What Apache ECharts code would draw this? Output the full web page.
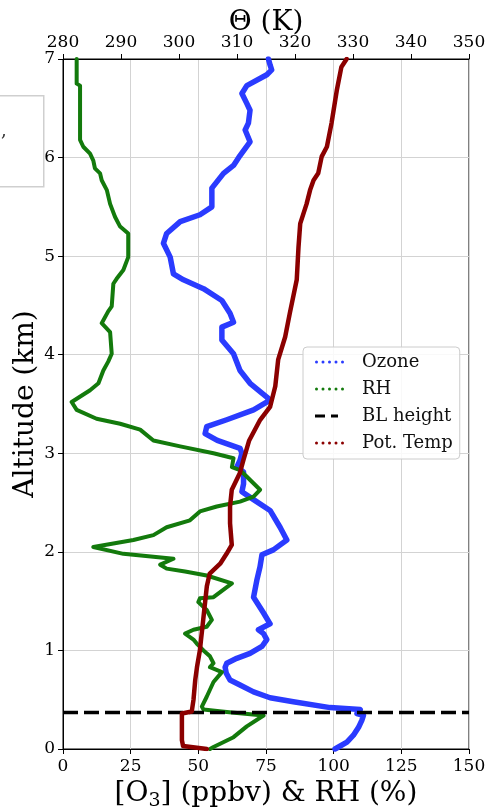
<!DOCTYPE html>
<html>
<head>
<meta charset="utf-8">
<script src="https://cdn.jsdelivr.net/npm/echarts@6/dist/echarts.min.js"></script>
<style>
html,body{margin:0;padding:0;background:#fff;}
#chart{width:490px;height:808px;}
</style>
</head>
<body>
<div id="chart"></div>
<script>
// ---- data (altitude in km) ----
const ozoneAlt = [0.00,0.07,0.14,0.22,0.29,0.34,0.36,0.40,0.42,0.48,0.52,0.58,0.65,0.70,0.77,0.83,0.87,0.92,0.97,1.04,1.11,1.17,1.21,1.27,1.38,1.54,1.71,1.85,1.97,2.02,2.12,2.25,2.42,2.53,2.61,2.69,2.81,2.86,2.93,3.00,3.05,3.13,3.20,3.27,3.34,3.44,3.54,3.57,3.71,3.84,4.01,4.15,4.28,4.33,4.42,4.55,4.67,4.76,4.82,4.99,5.13,5.23,5.35,5.42,5.50,5.57,5.69,5.84,5.92,6.02,6.16,6.28,6.35,6.48,6.55,6.65,6.73,6.84,6.89,6.94,7.00];
const ozoneVal = [100.5,104.9,107.3,109.2,110.4,111.0,108.6,109.8,98.7,85.1,76.5,70.4,65.4,61.7,60.3,59.9,60.5,64.2,69.1,73.5,75.3,74.1,72.2,76.5,74.1,70.4,71.6,72.8,73.5,77.7,82.7,80.2,76.5,70.4,66.1,66.7,66.7,64.2,65.4,66.1,65.4,57.0,52.5,53.1,60.5,70.4,76.5,75.3,69.1,65.4,63.0,58.7,58.7,63.0,61.7,58.7,51.9,44.5,40.8,39.6,37.1,38.3,43.3,50.6,55.0,55.0,55.0,59.3,63.0,65.4,69.1,67.3,68.5,69.1,67.9,66.1,67.9,75.3,77.1,76.5,75.9];

const rhAlt = [0.00,0.02,0.12,0.23,0.34,0.37,0.38,0.40,0.43,0.53,0.68,0.78,0.83,0.87,0.94,1.00,1.07,1.11,1.17,1.21,1.24,1.31,1.41,1.49,1.53,1.54,1.68,1.76,1.80,1.83,1.87,1.93,1.98,2.05,2.12,2.17,2.25,2.32,2.41,2.46,2.51,2.56,2.63,2.83,2.86,2.95,3.00,3.07,3.13,3.24,3.30,3.35,3.44,3.52,3.64,3.71,3.84,3.93,4.01,4.23,4.32,4.44,4.49,4.72,4.77,4.86,4.99,5.23,5.30,5.40,5.53,5.67,5.77,5.84,5.89,5.97,6.04,6.11,6.18,6.73,6.75,7.00];
const rhVal = [54.3,55.6,63.0,67.9,74.1,62.4,58.7,51.9,51.3,53.1,55.6,58.7,54.3,55.6,54.3,51.9,49.4,48.2,45.1,48.2,53.1,55.0,53.1,50.0,50.6,55.6,62.4,53.1,45.1,38.3,35.9,40.8,22.3,11.2,26.0,33.4,38.3,46.9,50.6,56.8,65.4,70.4,72.8,65.4,62.4,63.0,55.6,43.3,33.4,28.5,21.1,12.4,5.05,3.2,10.0,13.1,14.9,16.7,18.0,17.4,14.3,16.7,18.0,18.6,19.8,22.3,24.1,24.1,21.1,19.2,17.4,16.2,14.3,13.7,11.8,11.2,10.0,7.5,6.3,6.3,5.05,5.05];

const thetaAlt = [0.00,0.03,0.09,0.36,0.38,0.50,0.70,0.83,1.00,1.11,1.27,1.38,1.65,1.78,1.88,1.98,2.07,2.29,2.46,2.63,2.80,2.93,3.13,3.34,3.47,3.68,3.95,4.18,4.42,4.76,5.09,5.33,5.53,5.67,5.77,5.84,6.01,6.11,6.35,6.68,6.92,7.00];
const thetaVal = [304.8,300.7,300.5,300.5,302.2,302.5,302.8,303.1,303.6,303.8,304.1,304.3,304.8,305.3,307.1,308.2,309.1,308.8,308.8,309.1,310.5,311.1,312.1,314.0,315.7,316.6,317.1,318.3,319.1,320.3,320.6,320.9,322.0,322.6,323.2,324.0,324.6,325.5,326.3,327.2,328.0,328.9];

const blHeight = 0.37;
const bottomTicks = [0, 150, 25];   // min, max, interval
const topTicks = [280, 350, 10];
const altTicks = [0, 7, 1];
const seriesNames = ['Ozone', 'RH', 'BL height', 'Pot. Temp'];

// ---- chart ----
const FONT = 'DejaVu Serif';
const zip = (a, v) => a.map((y, i) => [v[i], y]);

const dots = 'path://M0,0M42,4' +
  'M0,2a1.5,1.5 0 1,0 3,0a1.5,1.5 0 1,0 -3,0' +
  'M6.5,2a1.5,1.5 0 1,0 3,0a1.5,1.5 0 1,0 -3,0' +
  'M13,2a1.5,1.5 0 1,0 3,0a1.5,1.5 0 1,0 -3,0' +
  'M19.5,2a1.5,1.5 0 1,0 3,0a1.5,1.5 0 1,0 -3,0' +
  'M26,2a1.5,1.5 0 1,0 3,0a1.5,1.5 0 1,0 -3,0';
const dash = 'path://M0,0M42,4M0,0.6h10v2.8h-10zM16,0.6h7v2.8h-7z';

const chart = echarts.init(document.getElementById('chart'), null, {renderer: 'canvas'});
const axisCommon = {
  axisLine: {show: true, lineStyle: {color: '#000', width: 1}},
  axisTick: {show: true, inside: false, length: 5, lineStyle: {color: '#000'}},
  axisLabel: {color: '#000', fontFamily: FONT, fontSize: 17},
  nameTextStyle: {color: '#000', fontFamily: FONT, fontSize: 28},
  nameMoveOverlap: false
};
const option = {
  animation: false,
  backgroundColor: '#fff',
  textStyle: {fontFamily: FONT},
  grid: {left: 63, right: 21, top: 59, bottom: 59, show: true, borderColor: '#000', borderWidth: 1,
         containLabel: false, outerBoundsMode: 'none'},
  xAxis: [
    Object.assign({}, axisCommon, {
      type: 'value', position: 'bottom', min: bottomTicks[0], max: bottomTicks[1], interval: bottomTicks[2],
      name: '[O{sub|3}] (ppbv) & RH (%)', nameLocation: 'middle', nameGap: 28,
      nameTextStyle: {color: '#000', fontFamily: FONT, fontSize: 28, lineHeight: 34,
        rich: {sub: {fontFamily: FONT, fontSize: 19, color: '#000', verticalAlign: 'bottom', lineHeight: 34}}},
      axisLabel: Object.assign({}, axisCommon.axisLabel, {margin: 9}),
      splitLine: {show: true, lineStyle: {color: '#d3d3d3', width: 1}}
    }),
    Object.assign({}, axisCommon, {
      type: 'value', position: 'top', min: topTicks[0], max: topTicks[1], interval: topTicks[2],
      name: 'Θ (K)', nameLocation: 'middle', nameGap: 22,
      axisLabel: Object.assign({}, axisCommon.axisLabel, {margin: 8}),
      splitLine: {show: false}
    })
  ],
  yAxis: [
    Object.assign({}, axisCommon, {
      type: 'value', min: altTicks[0], max: altTicks[1], interval: altTicks[2],
      name: 'Altitude (km)', nameLocation: 'middle', nameGap: 23, nameRotate: 90,
      axisLabel: Object.assign({}, axisCommon.axisLabel, {margin: 8}),
      splitLine: {show: true, lineStyle: {color: '#d3d3d3', width: 1}}
    })
  ],
  legend: {
    orient: 'vertical', left: 303, top: 347,
    data: [
      {name: seriesNames[0], icon: dots},
      {name: seriesNames[1], icon: dots},
      {name: seriesNames[2], icon: dash},
      {name: seriesNames[3], icon: dots}
    ],
    itemWidth: 42, itemHeight: 4, itemGap: 7,
    padding: [5, 7, 6, 12],
    backgroundColor: 'rgba(255,255,255,0.85)', borderColor: '#cccccc', borderWidth: 1, borderRadius: 4,
    itemStyle: {borderWidth: 0},
    textStyle: {fontFamily: FONT, fontSize: 18, color: '#111', lineHeight: 20}
  },
  graphic: [
    {type: 'rect', left: -10, top: 95, shape: {width: 53, height: 91}, style: {fill: '#fff', stroke: '#cfcfcf', lineWidth: 1.5}, z: 1},
    {type: 'text', left: 1, top: 122, style: {text: ',', fontFamily: FONT, fontSize: 18, fill: '#333'}, z: 2}
  ],
  series: [
    {name: seriesNames[0], type: 'line', xAxisIndex: 0, yAxisIndex: 0, data: zip(ozoneAlt, ozoneVal),
      showSymbol: false, color: '#2a3bff', lineStyle: {width: 5.5, color: '#2a3bff', cap: 'round', join: 'round'}, z: 3},
    {name: seriesNames[1], type: 'line', xAxisIndex: 0, yAxisIndex: 0, data: zip(rhAlt, rhVal),
      showSymbol: false, color: '#137a0c', lineStyle: {width: 4, color: '#137a0c', cap: 'round', join: 'round'}, z: 4},
    {name: seriesNames[2], type: 'line', xAxisIndex: 0, yAxisIndex: 0, data: [[bottomTicks[0], blHeight], [bottomTicks[1], blHeight]],
      showSymbol: false, color: '#000', lineStyle: {width: 3.5, color: '#000', type: [15, 6]}, z: 5},
    {name: seriesNames[3], type: 'line', xAxisIndex: 1, yAxisIndex: 0, data: zip(thetaAlt, thetaVal),
      showSymbol: false, color: '#8b0000', lineStyle: {width: 4.5, color: '#8b0000', cap: 'round', join: 'round'}, z: 6}
  ]
};
chart.setOption(option);
</script>
</body>
</html>
